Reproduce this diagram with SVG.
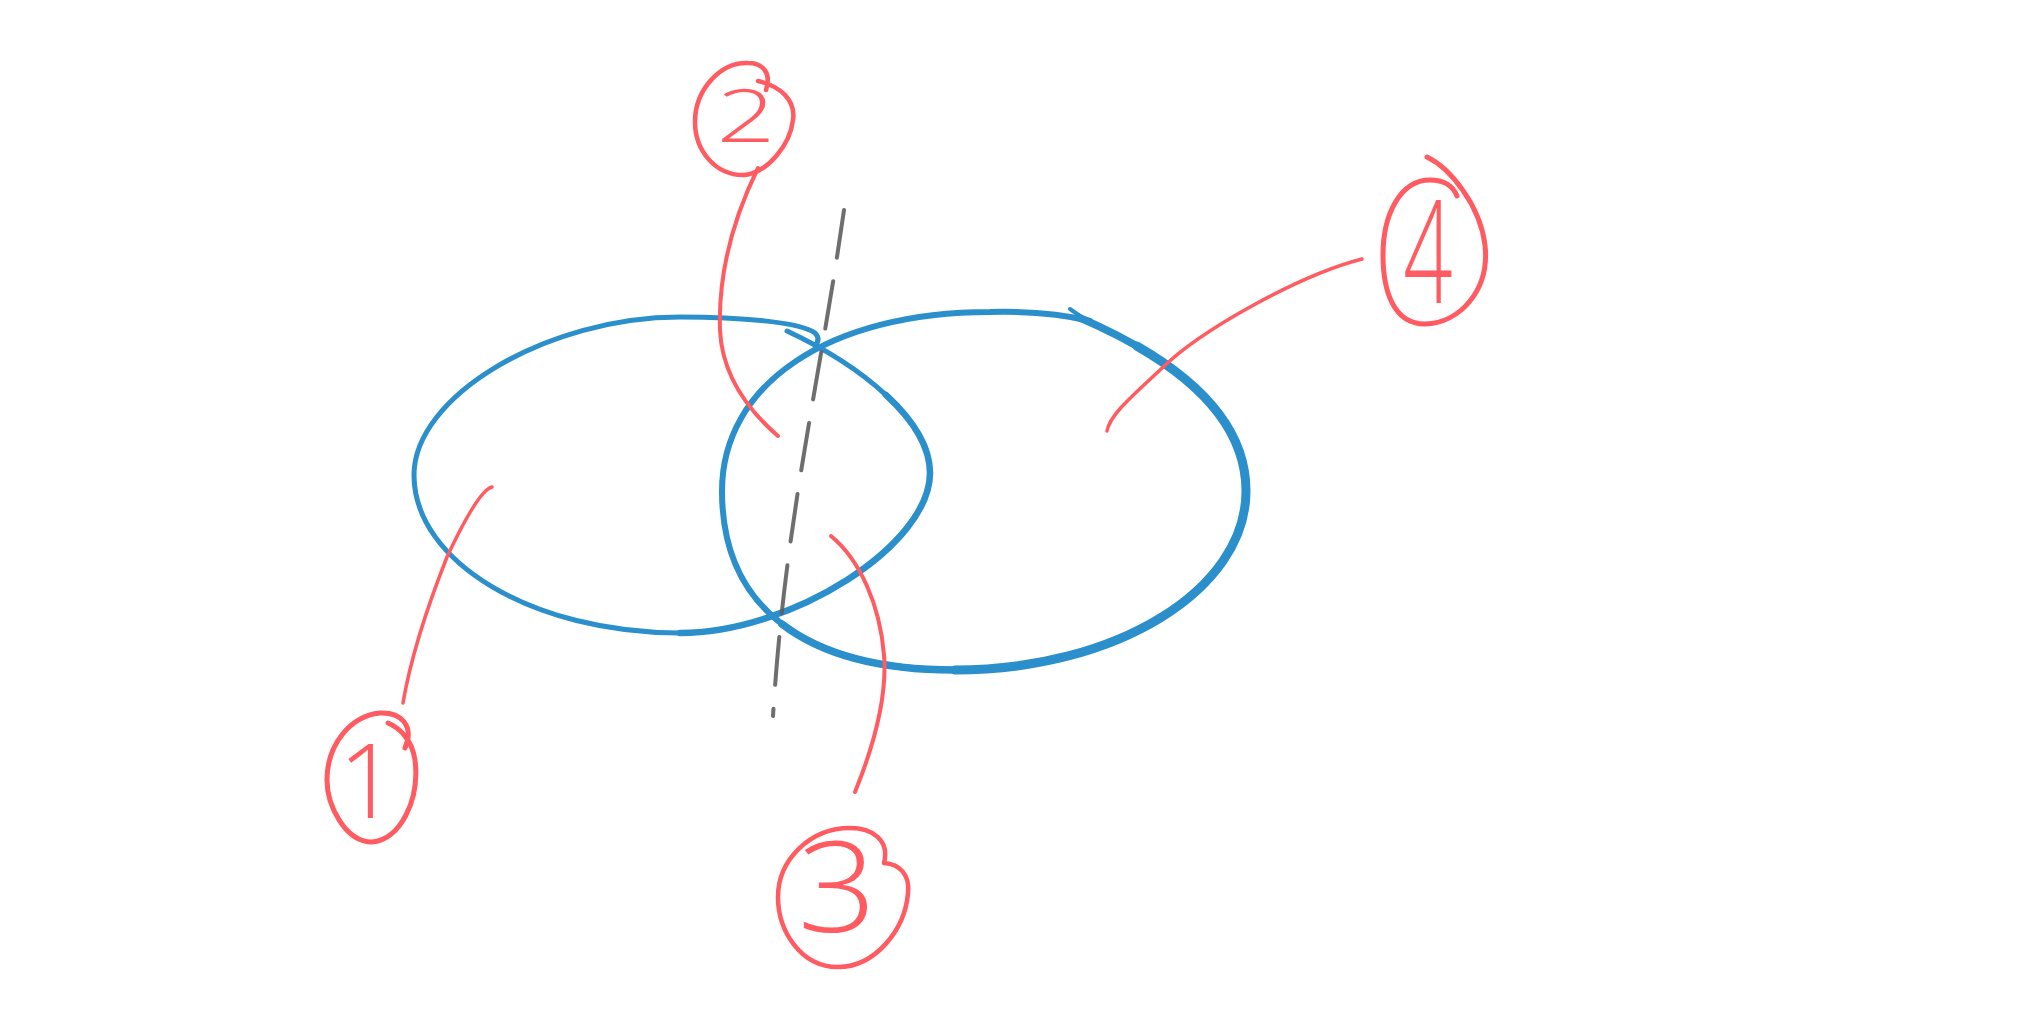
<svg xmlns="http://www.w3.org/2000/svg" width="2039" height="1017" viewBox="0 0 2039 1017">
<style>
.blue{fill:none;stroke:#2a8fcb;stroke-linecap:round;stroke-linejoin:round}
.red{fill:none;stroke:#ff5b61;stroke-linecap:round;stroke-linejoin:round}
.dash{fill:none;stroke:#5e5e5e;stroke-width:4;stroke-linecap:round;stroke-dasharray:48 24;opacity:0.9}
.num{font-family:"Open Sans","Liberation Sans",sans-serif;font-weight:300;fill:#ff5b61;text-anchor:middle}
</style>
<rect width="2039" height="1017" fill="#ffffff"/>
<g id="ellipse-left">
<path class="blue" stroke-width="5" d="M 787,331 C 860,365 930,420 930,473 C 930,545 792,633 680,633 C 533,633 414,562 414,475 C 414,396 547,317 680,317 C 740,317 800,322 815,333 Q 821,339 815,346"/>
<path class="blue" stroke-width="6.5" d="M 885.9,394.9 C 912.5,419.5 930,446.5 930,473 C 930,545 792,633 680,633"/>
</g>
<g id="ellipse-right">
<path class="blue" stroke-width="6" d="M 1078,317 C 1155,350 1246,405 1246,491 C 1246,590 1116,670 955,670 C 804,670 722,607 722,491 C 722,384 829,312 990,312 C 1030,311 1062,314 1090,321"/>
<path class="blue" stroke-width="7.5" d="M 1078,317 C 1155,350 1246,405 1246,491 C 1246,590 1116,670 955,670 C 879.5,670 821.25,654.25 781.9,624"/>
<path class="blue" stroke-width="9" d="M 1136.75,346 C 1194.8,379.4 1246,426.5 1246,491 C 1246,590 1116,670 955,670"/>
<path class="blue" stroke-width="4" d="M 1070,309 L 1080,316"/>
</g>
<g id="connectors">
<path class="dash" d="M 844,210 C 820,380 785,520 773,716"/>
<path class="red" stroke-width="3.5" d="M 492,487 C 480,490 462,525 447,557 C 430,600 412,650 403,703"/>
<path class="red" stroke-width="4" d="M 758,168 C 735,215 718,270 720,330 C 722,375 748,410 778,436"/>
<path class="red" stroke-width="4" d="M 831,536 C 860,560 880,605 884,655 C 888,705 868,760 855,792"/>
<path class="red" stroke-width="3.5" d="M 1362,259 C 1300,275 1200,330 1160,370 C 1130,398 1110,415 1107,431"/>
</g>
<g id="label-1">
<path class="red" stroke-width="5" d="M 388,723 C 400,728 412,740 415,760 C 420,800 400,840 372,842 C 345,842 327,805 327,780 C 327,745 350,716 380,713 C 400,712 415,725 405,748"/>
<text class="num" x="368" y="818" font-size="104">1</text>
</g>
<g id="label-2">
<path class="red" stroke-width="4.5" d="M 758,81 C 780,86 796,100 793,120 C 790,145 768,172 745,175 C 715,176 695,150 695,122 C 695,90 720,62 748,63 C 762,63 772,72 766,90"/>
<text class="num" font-size="74" transform="translate(746,142) scale(1.4,1)">2</text>
</g>
<g id="label-3">
<path class="red" stroke-width="4.5" d="M 884,863 C 900,864 910,875 908,893 C 905,930 875,967 838,967 C 800,967 778,930 778,897 C 778,860 810,828 850,828 C 872,828 890,840 884,863"/>
<text class="num" font-size="126" transform="translate(837,932) scale(1.1,1)">3</text>
</g>
<g id="label-4">
<path class="red" stroke-width="5" d="M 1427,157 C 1450,168 1480,205 1485,245 C 1490,290 1460,323 1425,324 C 1393,324 1383,290 1383,255 C 1383,215 1400,180 1430,180 C 1445,180 1453,186 1457,196"/>
<text class="num" font-size="144" transform="translate(1428,303) scale(0.6,1)">4</text>
</g>
</svg>
